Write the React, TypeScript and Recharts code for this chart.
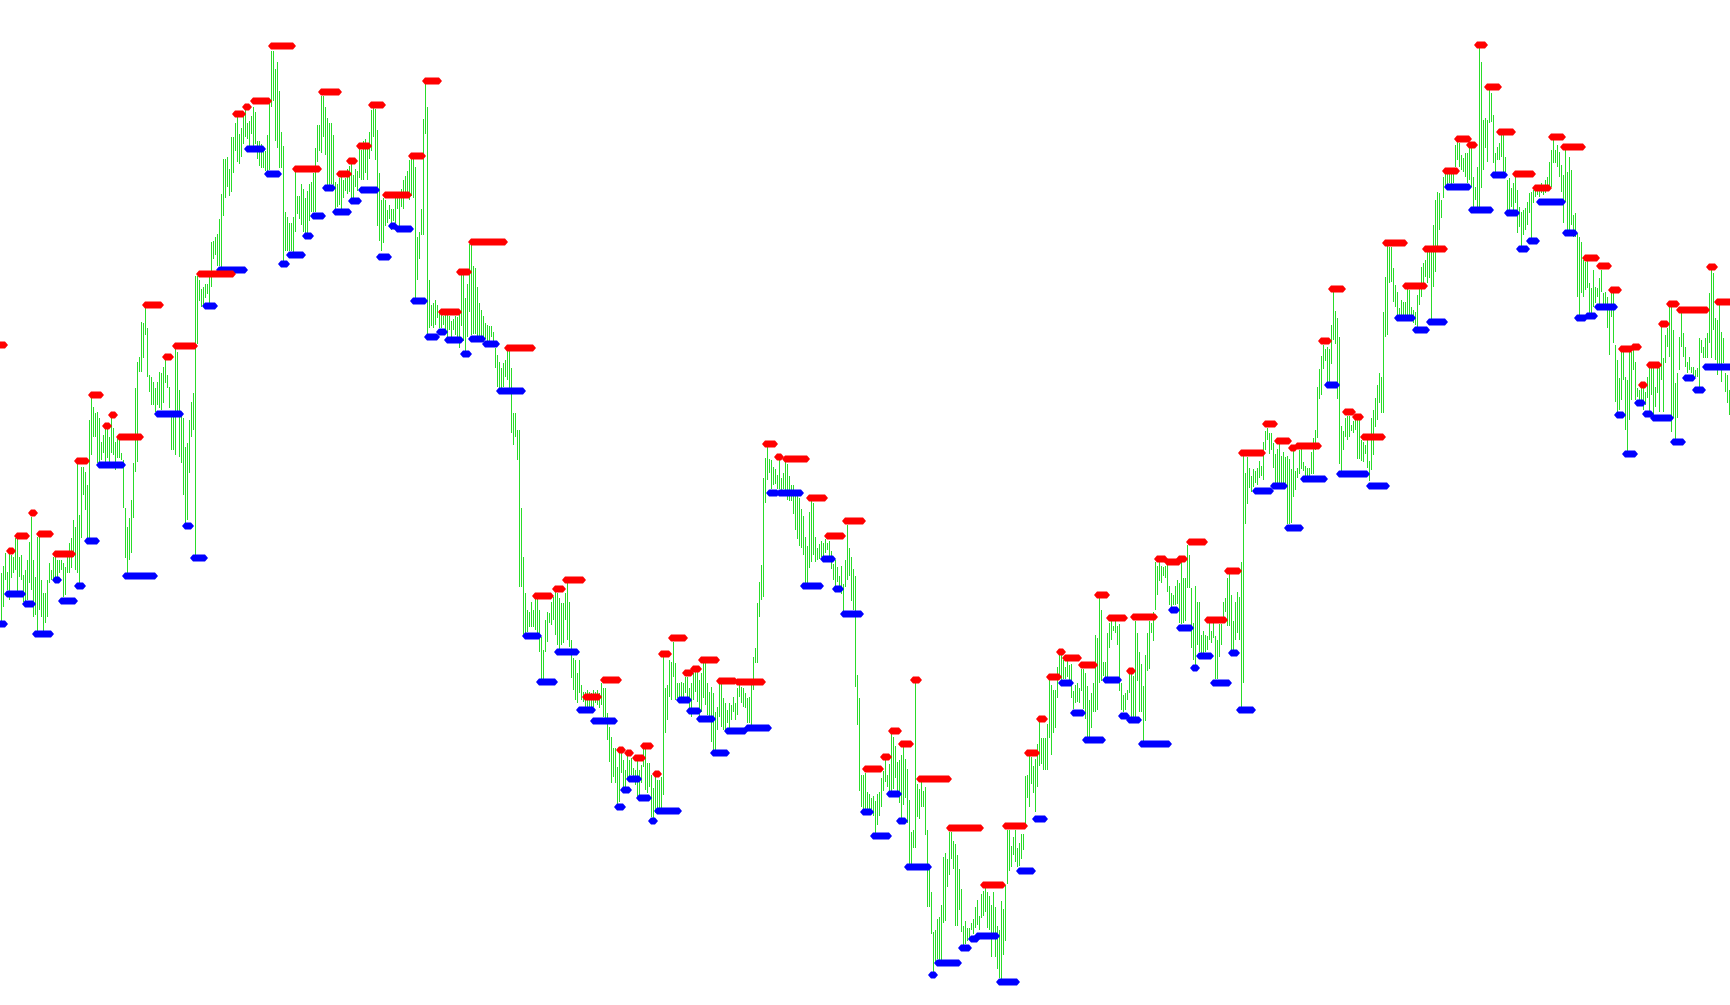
import React from 'react';
import { ComposedChart, Bar, XAxis, YAxis, ReferenceLine } from 'recharts';

// Bar highs (one bar per period)
const highs: number[] = [
  432, 439, 452, 433, 452, 450, 448, 467, 468, 448,
  450, 430, 435, 445, 463, 488, 445, 428, 468, 468,
  425, 412, 412, 425, 442, 435, 448, 448, 445, 445,
  445, 442, 438, 448, 462, 467, 485, 478, 542, 490,
  538, 538, 533, 520, 585, 608, 598, 592, 593, 587,
  563, 570, 577, 578, 568, 588, 577, 563, 568, 565,
  552, 545, 497, 478, 487, 505, 542, 617, 643, 648,
  683, 682, 697, 677, 630, 628, 623, 617, 623, 633,
  632, 638, 645, 630, 618, 592, 588, 657, 653, 615,
  592, 587, 558, 562, 585, 603, 612,
  729, 729, 725, 716, 718, 721, 721, 729, 763, 764,
  768, 771, 786, 811, 846, 846, 848, 836, 868, 868,
  882, 889, 871, 877, 889, 895, 882, 884, 889, 898,
  893, 864, 864, 861, 857, 854, 870, 905, 954, 954,
  936, 943, 914, 873, 859, 793, 788, 782, 782, 788,
  836, 809, 809, 821, 816, 807, 814, 821, 823, 832,
  857, 880, 880, 909, 909, 898, 887, 882, 882, 870,
  823, 821, 827, 830, 825, 827, 836, 839, 841, 830,
  836, 834, 857, 855, 864, 866, 861, 873, 895, 898,
  896, 875, 832, 805, 807, 805, 795, 800, 796, 796,
  807, 809, 809, 816, 825, 829, 834, 845, 848, 846,
  838, 768, 773, 796, 886, 921, 898, 725, 700, 702,
  705, 700, 695, 693, 689, 693, 691, 689, 684, 686,
  689, 688, 693, 730, 730, 707, 721, 761, 761, 739,
  737, 718, 702, 695, 689, 682, 680, 679, 679, 673,
  657, 650, 643,
  637, 642, 645, 655, 655, 637, 592, 592, 575, 575,
  497, 448, 412, 395, 393, 403, 395, 407, 408, 395,
  368, 355, 385, 393, 392, 403, 408, 415, 412, 407,
  402, 402, 412, 423, 403, 365, 347, 345, 332, 345,
  320, 313, 313, 315, 313, 312, 315, 313, 315, 312,
  322, 317, 317, 292, 278, 268, 257, 257, 238, 252,
  255, 245, 235, 253, 245, 247, 237, 235, 247, 235,
  240, 257, 257, 242, 242, 230, 217, 228, 225, 225,
  228, 348, 317, 320, 345, 343, 363, 342, 322, 322,
  323, 322, 328, 328, 317, 322, 332, 335, 335, 325,
  332, 342, 342, 322, 313, 318, 312, 293, 298, 322,
  323, 307, 302, 295, 302, 300, 308, 302, 317, 320,
  318, 317, 312, 307, 308, 320, 348, 357, 402, 423,
  440, 527, 547,
  559, 546, 545, 538, 536, 530, 546, 527, 532, 543,
  541, 529, 520, 520, 509, 511, 507, 496, 489, 468,
  459, 493, 504, 502, 468, 457, 461, 464, 462, 466,
  462, 464, 454, 441, 445, 438, 429, 439, 421, 445,
  480, 457, 448, 436, 429, 330, 307, 230, 230, 232,
  213, 211, 207, 209, 204, 211, 213, 227, 234, 245,
  230, 241, 271, 268, 259, 243, 245, 250, 259, 246,
  236, 205, 173, 175, 323, 221, 216, 223, 214, 218,
  175, 136, 113, 73, 75, 86, 88, 100, 148, 152,
  146, 173, 173, 164, 161, 150, 136, 116, 79, 84,
  77, 77, 82, 86, 98, 105, 89, 111, 114, 118,
  113, 109, 100, 113, 98, 79, 75, 104, 96, 120,
  175, 175, 159, 168, 175, 157, 162, 171, 171, 229,
  230, 252, 248, 239, 246, 261, 286,
  267, 267, 267, 281, 326, 320, 315, 315, 338, 350,
  351, 345, 338, 344, 340, 341, 314, 320, 322, 317,
  336, 336, 332, 319, 305, 312, 322, 370, 367, 407,
  395, 343, 343, 372, 382, 384, 379, 384, 379, 381,
  322, 310, 312, 315, 331, 331, 329, 384, 372, 353,
  341, 319, 350, 372, 384, 382, 393, 443, 439, 444,
  439, 438, 439, 443, 419, 412, 410, 419, 425, 422,
  443, 427, 427, 460, 450, 417, 382, 419, 403, 403,
  370, 374, 370, 369, 382, 374, 382, 369, 365, 381,
  381, 403, 407, 427, 431, 410, 384, 403, 413, 408,
  443, 551, 532, 548, 537, 529, 536, 534, 537, 544,
  539, 563, 574, 577, 572, 572, 562, 551, 556, 562,
  549, 553, 548, 549, 546, 536, 555, 534, 537, 555,
  556, 543, 539, 537, 537, 553, 567, 575, 618, 636,
  649, 660, 656, 658, 656, 680, 713, 694, 687, 668,
  579, 574, 587, 589, 589, 580, 584, 587, 587, 586,
  565, 563, 560, 565, 544,
  587, 595, 607, 620, 632, 628, 693, 728, 760, 758,
  758, 737, 720, 713, 697, 705, 703, 703, 717, 715,
  698, 695, 693, 710, 718, 738, 742, 745, 753, 753,
  753, 780, 805, 813, 812, 805, 828, 833, 832, 833,
  832, 832, 860, 863, 862, 850, 847, 852, 852, 857,
  860, 828, 818, 838, 958, 943, 885, 887, 885, 915,
  912, 890, 852, 858, 862, 870, 870, 848, 825, 827,
  817, 822, 828, 815, 798, 793, 795, 797, 803, 812,
  813, 815, 818, 818, 818, 822, 818, 825, 828, 843,
  855, 865, 855, 860, 853, 840, 830, 855, 833, 848,
  835, 790, 792, 772, 768, 763, 745, 743, 745, 722,
  717, 735, 718, 717, 727, 735, 712, 713, 708, 697,
  712, 712, 660, 645, 627, 653, 655, 628, 625, 655,
  653, 655, 643, 617, 615, 617, 617, 613, 628, 637,
  638, 637, 618, 637, 637, 682, 647, 670, 677, 702,
  698, 675, 622, 632, 668, 692, 672, 658, 643, 648,
  638, 638, 635, 637, 667, 665, 658, 667, 672, 712,
  735, 732, 687, 685, 702, 673, 667, 632, 630, 615,
];

// Bar lows
const lows: number[] = [
  382, 398, 425, 415, 405, 427, 432, 435, 412, 428,
  425, 403, 402, 405, 422, 415, 388, 390, 372, 395,
  388, 372, 382, 388, 422, 425, 425, 428, 425, 432,
  435, 408, 410, 432, 432, 437, 448, 435, 432, 422,
  467, 510, 495, 467, 467, 550, 568, 568, 542, 542,
  545, 552, 540, 547, 543, 552, 550, 535, 547, 547,
  545, 497, 447, 432, 445, 452, 487, 533, 543, 633,
  633, 647, 670, 628, 613, 600, 600, 593, 600, 597,
  595, 602, 622, 617, 597, 555, 555, 550, 592, 548,
  542, 510, 482, 485, 532, 568, 575,
  448, 661, 704, 698, 700, 707, 711, 700, 718, 746,
  750, 739, 739, 736, 789, 807, 818, 809, 813, 832,
  854, 843, 841, 848, 861, 868, 866, 857, 871, 857,
  861, 846, 839, 837, 837, 834, 832, 835, 898, 904,
  864, 857, 837, 837, 741, 754, 754, 754, 754, 750,
  773, 791, 786, 780, 773, 771, 770, 784, 793, 793,
  793, 843, 854, 852, 868, 850, 820, 820, 821, 820,
  796, 798, 800, 796, 807, 814, 811, 813, 807, 805,
  818, 814, 827, 825, 825, 832, 825, 846, 854, 868,
  845, 779, 764, 754, 762, 779, 782, 786, 775, 784,
  782, 796, 779, 798, 796, 809, 812, 805, 809, 807,
  704, 725, 746, 770, 770, 871, 668, 677, 679, 677,
  680, 687, 677, 677, 680, 675, 668, 675, 668, 675,
  670, 664, 657, 679, 664, 654, 668, 693, 670, 671,
  671, 668, 668, 666, 663, 666, 664, 661, 668, 663,
  637, 618, 616,
  617, 618, 628, 625, 617, 572, 560, 568, 545, 418,
  418, 370, 372, 373, 378, 378, 378, 375, 372, 353,
  325, 325, 353, 363, 382, 380, 385, 370, 360, 353,
  360, 362, 385, 365, 358, 327, 315, 305, 302, 312,
  305, 303, 297, 298, 295, 292, 298, 302, 300, 297,
  300, 288, 285, 265, 243, 222, 228, 222, 198, 203,
  232, 218, 215, 225, 228, 230, 228, 220, 208, 210,
  222, 238, 215, 212, 218, 188, 185, 192, 195, 195,
  195, 210, 272, 285, 308, 305, 328, 305, 307, 308,
  305, 308, 312, 308, 295, 288, 305, 313, 303, 288,
  293, 307, 300, 290, 288, 263, 253, 253, 275, 288,
  278, 275, 275, 282, 275, 285, 293, 285, 290, 308,
  302, 298, 297, 282, 282, 277, 315, 342, 342, 388,
  405, 408, 502,
  525, 532, 516, 520, 521, 516, 516, 514, 516, 511,
  505, 504, 504, 491, 475, 466, 459, 457, 450, 421,
  421, 437, 443, 450, 443, 445, 446, 448, 446, 452,
  455, 446, 436, 425, 418, 423, 418, 411, 393, 418,
  425, 429, 404, 395, 318, 280, 214, 198, 195, 196,
  195, 196, 196, 189, 171, 180, 189, 198, 214, 223,
  218, 214, 214, 216, 227, 211, 202, 186, 200, 207,
  182, 141, 139, 157, 157, 188, 186, 198, 198, 170,
  98, 98, 71, 30, 43, 46, 43, 43, 82, 84,
  118, 130, 146, 136, 79, 79, 95, 73, 59, 61,
  64, 67, 75, 71, 77, 80, 75, 87, 89, 93,
  77, 75, 48, 68, 48, 36, 27, 23, 50, 64,
  121, 134, 138, 150, 143, 138, 139, 146, 155, 180,
  207, 198, 221, 212, 193, 218, 239,
  241, 235, 235, 235, 267, 250, 272, 277, 307, 327,
  324, 326, 326, 328, 324, 307, 296, 302, 303, 302,
  314, 296, 286, 267, 267, 277, 293, 293, 295, 322,
  324, 329, 327, 327, 357, 365, 374, 372, 360, 314,
  295, 293, 295, 305, 312, 288, 288, 286, 324, 293,
  293, 262, 284, 334, 336, 372, 364, 395, 410, 424,
  422, 429, 427, 413, 400, 398, 400, 400, 401, 382,
  381, 382, 384, 417, 417, 357, 345, 339, 360, 353,
  351, 351, 353, 355, 365, 362, 367, 326, 326, 348,
  360, 382, 393, 379, 379, 355, 353, 365, 372, 365,
  295, 322, 481, 501, 517, 513, 518, 522, 520, 527,
  529, 525, 555, 565, 551, 555, 537, 522, 520, 520,
  520, 522, 522, 481, 481, 482, 508, 515, 527, 531,
  536, 534, 529, 529, 527, 531, 531, 555, 567, 606,
  610, 636, 644, 622, 623, 641, 665, 661, 606, 541,
  534, 555, 568, 565, 568, 574, 572, 575, 546, 546,
  544, 543, 551, 537, 524,
  535, 550, 578, 585, 602, 592, 592, 668, 670, 722,
  723, 703, 698, 688, 690, 688, 685, 687, 688, 685,
  685, 682, 680, 675, 700, 708, 722, 728, 722, 727,
  685, 718, 733, 758, 775, 787, 807, 818, 818, 822,
  818, 822, 838, 845, 838, 835, 833, 828, 822, 825,
  818, 798, 805, 798, 798, 817, 835, 857, 843, 882,
  883, 842, 833, 845, 845, 848, 833, 833, 795, 793,
  798, 795, 802, 772, 778, 755, 770, 775, 780, 792,
  767, 802, 808, 810, 808, 812, 810, 812, 815, 818,
  818, 842, 842, 838, 828, 813, 782, 803, 775, 775,
  780, 768, 768, 708, 688, 712, 708, 715, 717, 692,
  692, 698, 702, 708, 700, 713, 698, 698, 677, 650,
  688, 662, 603, 592, 595, 605, 625, 575, 553, 585,
  605, 635, 605, 608, 600, 602, 595, 600, 607, 592,
  610, 588, 598, 612, 593, 625, 593, 642, 658, 648,
  573, 587, 562, 587, 635, 658, 648, 638, 632, 635,
  632, 628, 628, 628, 615, 652, 647, 647, 647, 662,
  647, 675, 645, 630, 638, 623, 642, 613, 602, 590,
];

// Resistance levels: [first bar, last bar, level]
const resistance: [number, number, number][] = [
  [0, 1, 660], [5, 5, 454], [9, 12, 469], [16, 16, 492], [20, 24, 471], [28, 35, 451], [39, 42, 544],
  [46, 49, 610], [53, 53, 579], [56, 56, 590], [60, 69, 568], [73, 79, 700], [83, 84, 648], [88, 96, 659],
  [100, 115, 731], [118, 120, 891], [123, 123, 898], [127, 133, 904], [136, 145, 959], [148, 158, 836],
  [161, 168, 913], [170, 173, 831], [175, 176, 844], [180, 183, 859], [186, 190, 900], [193, 203, 810],
  [206, 210, 849], [213, 218, 924], [221, 228, 693], [230, 233, 733], [236, 251, 763], [254, 265, 657],
  [268, 274, 409], [278, 280, 416], [283, 290, 425], [293, 298, 308], [302, 308, 325], [310, 310, 255],
  [314, 314, 252], [318, 320, 247], [322, 324, 259], [328, 328, 231], [331, 333, 351], [336, 341, 367],
  [343, 344, 332], [347, 348, 336], [351, 357, 345], [360, 366, 324], [369, 380, 323], [383, 386, 561],
  [389, 389, 548], [393, 402, 546], [405, 411, 507], [414, 420, 469], [423, 430, 484], [433, 439, 236],
  [442, 443, 248], [446, 448, 274], [451, 454, 261], [457, 458, 325], [460, 473, 226], [475, 489, 177],
  [492, 500, 120], [503, 511, 179], [514, 517, 252],
  [520, 521, 286], [525, 528, 328], [530, 530, 353], [533, 538, 347], [541, 546, 340], [549, 552, 410],
  [555, 561, 387], [565, 565, 334], [567, 576, 388], [579, 581, 446], [584, 588, 443], [590, 591, 446],
  [595, 601, 463], [604, 611, 385], [614, 618, 434], [621, 630, 552], [633, 636, 581], [639, 643, 564],
  [646, 646, 557], [649, 658, 559], [661, 663, 664], [666, 670, 716], [673, 675, 593], [678, 679, 588],
  [682, 690, 568],
  [693, 701, 762], [703, 711, 719], [713, 721, 756], [723, 727, 834], [729, 733, 866], [735, 736, 860],
  [739, 741, 960], [744, 748, 918], [750, 755, 873], [758, 765, 831], [768, 773, 817], [776, 780, 868],
  [782, 790, 858], [793, 797, 747], [800, 803, 739], [806, 808, 715], [811, 814, 656], [817, 818, 658],
  [821, 821, 620], [825, 828, 640], [831, 832, 681], [835, 837, 701], [840, 852, 695], [855, 856, 738],
  [859, 864, 703],
];

// Support levels: [first bar, last bar, level]
const support: [number, number, number][] = [
  [0, 1, 381], [4, 10, 411], [13, 15, 401], [18, 24, 371], [28, 28, 425], [31, 36, 404], [39, 40, 419],
  [44, 47, 464], [50, 60, 540], [63, 76, 429], [79, 89, 591], [93, 94, 479], [97, 101, 447],
  [103, 106, 699], [110, 121, 735], [124, 130, 856], [134, 138, 831], [141, 142, 741], [145, 150, 750],
  [153, 154, 769], [157, 160, 789], [163, 165, 817], [168, 173, 793], [176, 178, 804], [181, 187, 815],
  [190, 193, 748], [196, 196, 779], [199, 204, 776], [207, 211, 704], [214, 217, 668], [220, 221, 673],
  [224, 229, 665], [232, 233, 651], [236, 240, 666], [243, 247, 661], [250, 260, 614],
  [263, 268, 369], [270, 276, 323], [279, 287, 353], [290, 295, 295], [297, 306, 284], [309, 310, 198],
  [312, 313, 215], [315, 318, 226], [320, 323, 207], [326, 326, 184], [329, 338, 194], [340, 343, 305],
  [345, 348, 294], [350, 355, 286], [357, 362, 252], [364, 371, 274], [374, 383, 277], [385, 387, 512],
  [390, 399, 512],
  [402, 409, 419], [412, 415, 446], [418, 419, 416], [422, 429, 391], [432, 434, 193], [437, 443, 169],
  [445, 448, 211], [450, 451, 184], [454, 463, 138], [466, 466, 30], [469, 478, 42], [481, 483, 57],
  [486, 487, 66], [489, 497, 69], [500, 507, 23], [510, 515, 134], [518, 521, 186],
  [531, 534, 322], [537, 540, 292], [543, 550, 265], [553, 558, 325], [561, 562, 289], [565, 568, 285],
  [571, 583, 261], [586, 587, 395], [590, 594, 377], [597, 597, 337], [600, 604, 349], [607, 613, 322],
  [616, 617, 352], [620, 625, 295], [628, 634, 514], [637, 641, 519], [644, 649, 477], [652, 661, 526],
  [664, 667, 620], [670, 682, 531], [685, 692, 519],
  [699, 705, 687], [708, 712, 675], [715, 721, 683], [724, 733, 818], [736, 744, 795], [747, 751, 830],
  [754, 757, 792], [760, 762, 756], [765, 767, 764], [770, 780, 803], [783, 786, 772], [789, 791, 687],
  [794, 796, 689], [799, 806, 698], [809, 810, 590], [813, 816, 551], [819, 820, 602], [823, 824, 591],
  [827, 834, 587], [837, 840, 563], [843, 845, 627], [848, 850, 615], [853, 864, 638],
];

const GREEN = '#2adc2a';
const RED = '#ff0000';
const BLUE = '#0000ff';

const N = Math.min(highs.length, lows.length);
const data = Array.from({ length: N }, (_, i) => ({ i, range: [lows[i], highs[i]] }));

const WIDTH = 1730;
const HEIGHT = 1005;

const makeLevelShape = (color: string) => (props: any) => {
  const { x1, y1, x2 } = props;
  if (x1 == null || y1 == null || x2 == null || isNaN(x1) || isNaN(y1) || isNaN(x2)) return <g />;
  const a = Math.min(x1, x2);
  const b = Math.max(x1, x2);
  const h = 3.4;
  const pts = [
    [a - 5, y1],
    [a - 2, y1 - h],
    [b + 2, y1 - h],
    [b + 5, y1],
    [b + 2, y1 + h],
    [a - 2, y1 + h],
  ]
    .map((p) => `${p[0]},${p[1]}`)
    .join(' ');
  return <polygon points={pts} fill={color} stroke="none" />;
};

const redShape = makeLevelShape(RED);
const blueShape = makeLevelShape(BLUE);

const BarShape = (props: any) => {
  const { x, y, height } = props;
  if (x == null || y == null || height == null) return <g />;
  return (
    <rect
      x={Math.round(x)}
      y={Math.round(y)}
      width={1}
      height={Math.max(1, Math.round(height))}
      fill={GREEN}
      shapeRendering="crispEdges"
    />
  );
};

export default function App() {
  return (
    <div
      style={{
        position: 'absolute',
        left: 0,
        top: 0,
        width: WIDTH,
        height: HEIGHT,
        background: '#ffffff',
        overflow: 'hidden',
      }}
    >
      <ComposedChart
        width={WIDTH}
        height={HEIGHT}
        data={data}
        margin={{ top: 0, right: 0, bottom: 0, left: 0 }}
        barCategoryGap={0}
      >
        <XAxis dataKey="i" type="category" hide padding={{ left: 0, right: 0 }} />
        <YAxis type="number" domain={[0, 1005]} hide allowDataOverflow />
        <Bar dataKey="range" barSize={1} isAnimationActive={false} shape={BarShape} />
        {support.map(([s, e, v], k) => (
          <ReferenceLine
            key={`s${k}`}
            segment={[
              { x: s, y: v },
              { x: e, y: v },
            ]}
            ifOverflow="visible"
            shape={blueShape}
          />
        ))}
        {resistance.map(([s, e, v], k) => (
          <ReferenceLine
            key={`r${k}`}
            segment={[
              { x: s, y: v },
              { x: e, y: v },
            ]}
            ifOverflow="visible"
            shape={redShape}
          />
        ))}
      </ComposedChart>
    </div>
  );
}
